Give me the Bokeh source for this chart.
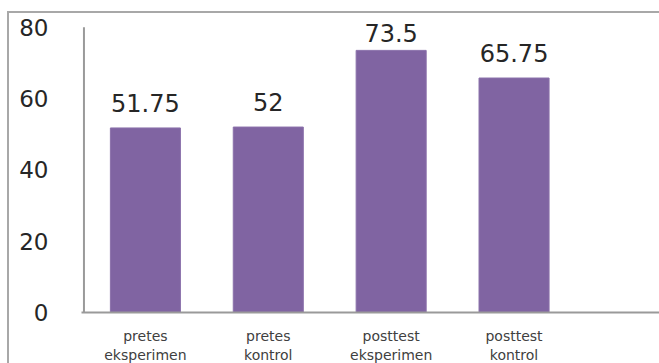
from bokeh.plotting import figure
from bokeh.models import ColumnDataSource, FixedTicker
from bokeh.core.properties import value
from bokeh.embed import file_html
from bokeh.resources import INLINE

categories = ["pretes\neksperimen", "pretes\nkontrol", "posttest\neksperimen", "posttest\nkontrol"]
scores = [51.75, 52, 73.5, 65.75]
y_ticks = [0, 20, 40, 60, 80]

Y_AXIS_TOP = 80
LABEL_CAP = 71.5  # labels near the top are kept inside the plot area

xs = [i + 0.5 for i in range(len(categories))]
src = ColumnDataSource(dict(x=xs, top=scores,
                            label_y=[min(v, LABEL_CAP) for v in scores],
                            label=[f"{v:g}" for v in scores]))

p = figure(width=652, height=352, x_range=(-0.02, 4.7), y_range=(0, 83),
           output_backend="svg", toolbar_location=None,
           min_border_left=72, min_border_top=3, min_border_bottom=50, min_border_right=0,
           margin=(11, 0, 0, 7),
           styles={"border-left": "2px solid #a8a8a8", "border-top": "2px solid #a8a8a8",
                   "box-sizing": "border-box"})
p.outline_line_color = None
p.grid.visible = False
p.background_fill_color = "white"
p.border_fill_color = "white"

# value axis line from 0 to the top tick
p.segment(x0=[0], y0=[0], x1=[0], y1=[Y_AXIS_TOP], line_color="#9a9a9a", line_width=2)

p.vbar(x="x", top="top", width=0.57, bottom=0, source=src,
       fill_color="#8064a2", line_color="#8a70aa")
p.text(x="x", y="label_y", text="label", source=src, text_align="center",
       text_baseline="middle", y_offset=-25, text_font=value("DejaVu Sans"),
       text_font_size="24px", text_color="#262626")

p.yaxis.ticker = FixedTicker(ticks=y_ticks)
p.yaxis.major_tick_line_color = None
p.yaxis.minor_tick_line_color = None
p.yaxis.axis_line_color = None
p.yaxis.major_label_standoff = 27
p.yaxis.major_label_text_font = "DejaVu Sans"
p.yaxis.major_label_text_font_size = "23px"
p.yaxis.major_label_text_color = "#262626"

p.xaxis.ticker = FixedTicker(ticks=xs)
p.xaxis.major_label_overrides = {x: c for x, c in zip(xs, categories)}
p.xaxis.major_tick_line_color = None
p.xaxis.minor_tick_line_color = None
p.xaxis.axis_line_color = "#9a9a9a"
p.xaxis.axis_line_width = 2
p.xaxis.major_label_standoff = 9
p.xaxis.major_label_text_font = "DejaVu Sans"
p.xaxis.major_label_text_font_size = "14px"
p.xaxis.major_label_text_color = "#404040"

open("out.html", "w").write(file_html(p, INLINE))
